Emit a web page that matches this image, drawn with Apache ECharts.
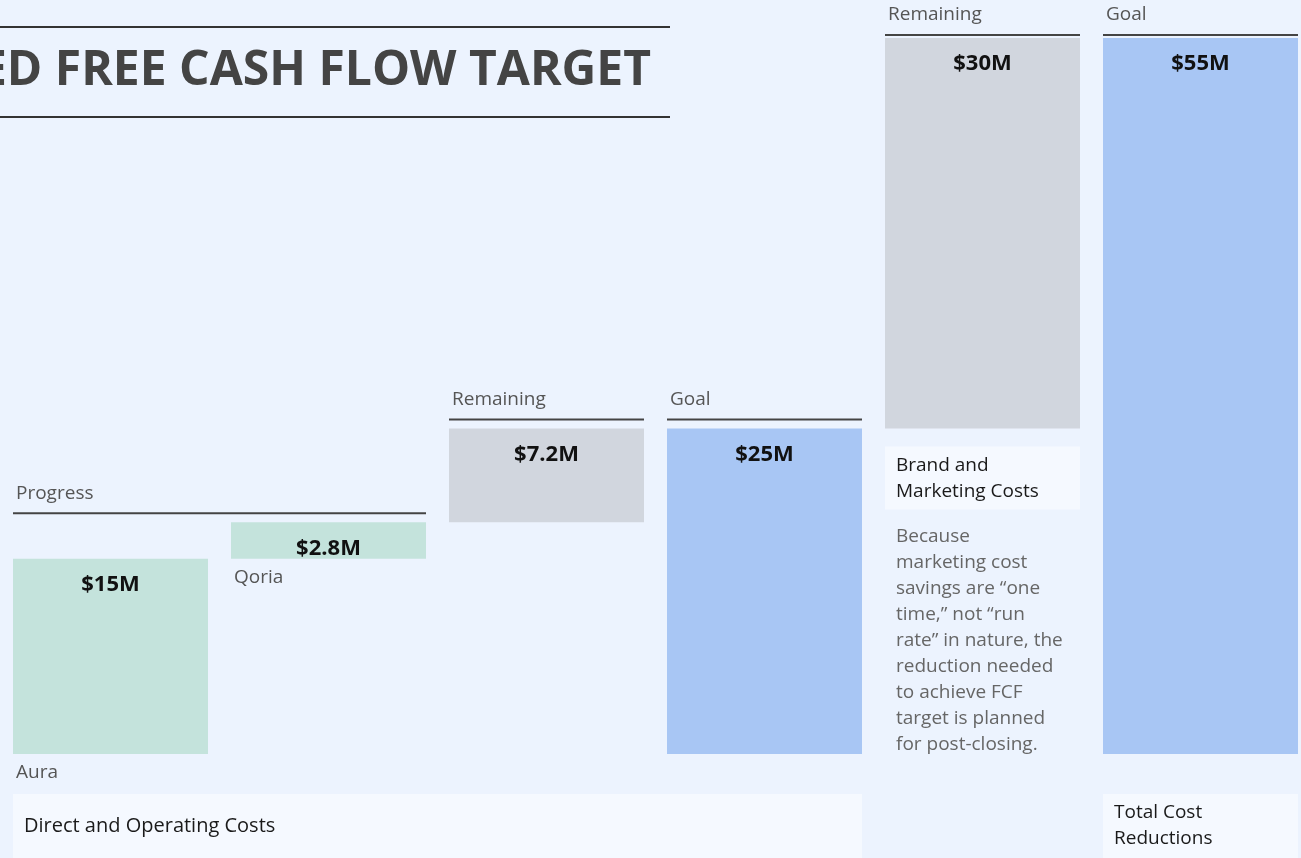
<!DOCTYPE html>
<html>
<head>
<meta charset="utf-8">
<script src="https://cdn.jsdelivr.net/npm/echarts@6/dist/echarts.min.js"></script>
<style>
  html, body { margin: 0; padding: 0; background: #ecf3fe; }
  #chart { width: 1301px; height: 858px; }
</style>
</head>
<body>
<div id="chart"></div>
<script>
  // data
  var categories = ['Aura', 'Qoria', 'Remaining', 'Goal', 'Remaining', 'Goal'];
  var baseValues = [0, 15, 17.8, 0, 25, 0];
  var barValues = [15, 2.8, 7.2, 25, 30, 55];
  var barLabels = ['$15M', '$2.8M', '$7.2M', '$25M', '$30M', '$55M'];
  var barKinds = ['progress', 'progress', 'remaining', 'goal', 'remaining', 'goal'];
  var catNames = ['Aura', 'Qoria'];
  var headers = [
    { text: 'Progress', from: 0, to: 1 },
    { text: 'Remaining', from: 2, to: 2 },
    { text: 'Goal', from: 3, to: 3 },
    { text: 'Remaining', from: 4, to: 4 },
    { text: 'Goal', from: 5, to: 5 }
  ];
  var title = 'COST REDUCTIONS TO ACHIEVE REQUIRED FREE CASH FLOW TARGET';
  var brandTitle = 'Brand and\nMarketing Costs';
  var brandNote = 'Because\nmarketing cost\nsavings are \u201cone\ntime,\u201d not \u201crun\nrate\u201d in nature, the\nreduction needed\nto achieve FCF\ntarget is planned\nfor post-closing.';
  var directLabel = 'Direct and Operating Costs';
  var totalLabel = 'Total Cost\nReductions';

  var kindColors = { progress: '#c4e3dc', remaining: '#d1d6de', goal: '#a8c6f4' };
  var FONT = '"Open Sans", "Noto Sans", sans-serif';
  var BAR_W = 195;

  var chart = echarts.init(document.getElementById('chart'));

  chart.setOption({
    backgroundColor: '#ecf3fe',
    animation: false,
    grid: { left: 1.5, width: 1308, top: 38, bottom: 104, outerBoundsMode: 'none' },
    xAxis: { type: 'category', data: categories, show: false },
    yAxis: { type: 'value', min: 0, max: 55, show: false },
    series: [
      {
        type: 'bar',
        stack: 'w',
        silent: true,
        barWidth: BAR_W,
        itemStyle: { color: 'transparent' },
        data: baseValues
      },
      {
        type: 'bar',
        stack: 'w',
        barWidth: BAR_W,
        data: barValues.map(function(v, i) {
          return { value: v, itemStyle: { color: kindColors[barKinds[i]] } };
        }),
        label: {
          show: true,
          position: 'insideTop',
          distance: 15,
          fontFamily: FONT,
          fontSize: 22,
          fontWeight: 'bold',
          color: '#111',
          formatter: function(p) { return barLabels[p.dataIndex]; }
        }
      }
    ]
  });

  // annotations placed from the bar positions
  function barBox(i) {
    var top = chart.convertToPixel({ seriesIndex: 1 }, [i, baseValues[i] + barValues[i]]);
    var bottom = chart.convertToPixel({ seriesIndex: 1 }, [i, baseValues[i]]);
    return { left: top[0] - BAR_W / 2, right: top[0] + BAR_W / 2, top: top[1], bottom: bottom[1] };
  }

  var boxes = categories.map(function(c, i) { return barBox(i); });
  var graphics = [];

  // title
  graphics.push(
    { type: 'line', shape: { x1: 0, y1: 27, x2: 670, y2: 27 }, style: { stroke: '#333', lineWidth: 2 } },
    { type: 'line', shape: { x1: 0, y1: 117, x2: 670, y2: 117 }, style: { stroke: '#333', lineWidth: 2 } },
    { type: 'text', x: 651, y: 71, style: {
      text: title, align: 'right', verticalAlign: 'middle',
      font: 'bold 48px ' + FONT, fill: '#444'
    } }
  );

  // group headers
  headers.forEach(function(h) {
    var l = boxes[h.from].left, r = boxes[h.to].right;
    var top = Math.min.apply(null, boxes.slice(h.from, h.to + 1).map(function(b) { return b.top; }));
    var y = Math.max(top - 9, 35);
    graphics.push(
      { type: 'line', shape: { x1: l, y1: y, x2: r, y2: y }, style: { stroke: '#444', lineWidth: 2 } },
      { type: 'text', x: l + 3, y: y - 20, style: {
        text: h.text, verticalAlign: 'middle', font: '19px ' + FONT, fill: '#555'
      } }
    );
  });

  // category names under their bars
  catNames.forEach(function(name, i) {
    graphics.push({ type: 'text', x: boxes[i].left + 3, y: boxes[i].bottom + 19, style: {
      text: name, verticalAlign: 'middle', font: '19px ' + FONT, fill: '#555'
    } });
  });

  // brand and marketing note
  var b4 = boxes[4];
  graphics.push(
    { type: 'rect', shape: { x: b4.left, y: b4.bottom + 18, width: BAR_W, height: 63 }, style: { fill: '#f5f9ff' } },
    { type: 'text', x: b4.left + 11, y: b4.bottom + 24, style: {
      text: brandTitle, font: '19px ' + FONT, fill: '#1a1a1a', lineHeight: 26, verticalAlign: 'top'
    } },
    { type: 'text', x: b4.left + 11, y: b4.bottom + 95, style: {
      text: brandNote, font: '19px ' + FONT, fill: '#666', lineHeight: 26, verticalAlign: 'top'
    } }
  );

  // bottom section boxes
  var yBox = boxes[0].bottom + 40;
  graphics.push(
    { type: 'rect', shape: { x: boxes[0].left, y: yBox, width: boxes[3].right - boxes[0].left, height: 64 }, style: { fill: '#f5f9ff' } },
    { type: 'text', x: boxes[0].left + 11, y: yBox + 32, style: {
      text: directLabel, verticalAlign: 'middle', font: '20px ' + FONT, fill: '#1a1a1a'
    } },
    { type: 'rect', shape: { x: boxes[5].left, y: yBox, width: BAR_W, height: 64 }, style: { fill: '#f5f9ff' } },
    { type: 'text', x: boxes[5].left + 11, y: yBox + 32, style: {
      text: totalLabel, verticalAlign: 'middle', font: '19px ' + FONT, fill: '#1a1a1a', lineHeight: 26
    } }
  );

  chart.setOption({ graphic: graphics });
</script>
</body>
</html>
